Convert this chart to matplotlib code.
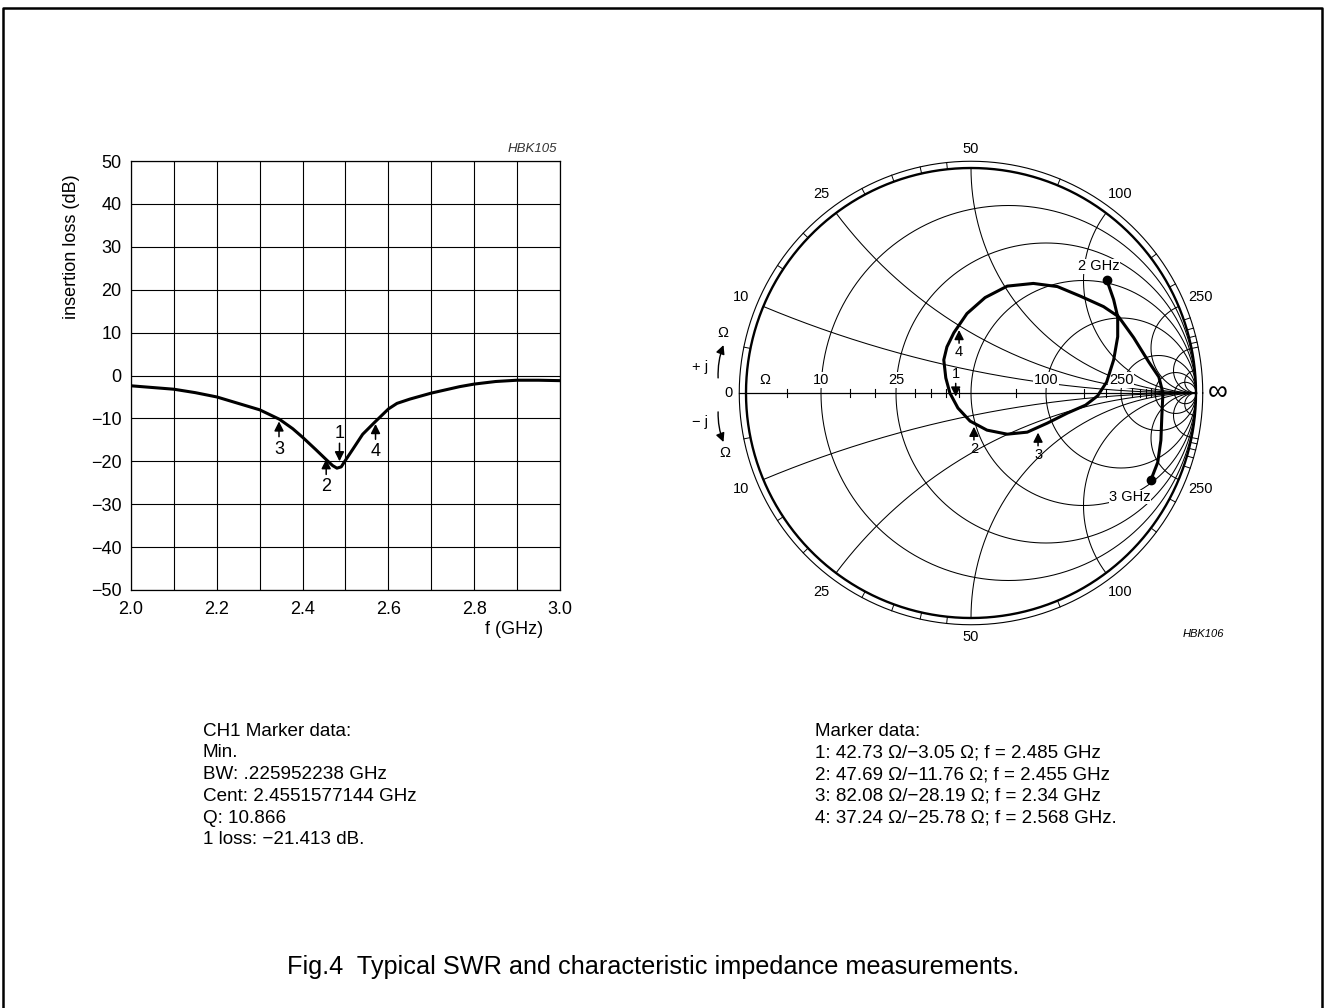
import numpy as np
import matplotlib
matplotlib.use("Agg")
import matplotlib.pyplot as plt
from matplotlib.lines import Line2D

plt.rcParams['font.family'] = ['Liberation Sans', 'DejaVu Sans']

W, H = 1324, 1008

# insertion loss vs frequency
freq = [2.0, 2.05, 2.1, 2.15, 2.2, 2.25, 2.3, 2.346, 2.377, 2.4, 2.43, 2.455,
        2.47, 2.48, 2.49, 2.497, 2.517, 2.54, 2.568, 2.6, 2.62, 2.65, 2.7, 2.766,
        2.8, 2.85, 2.9, 2.95, 3.0]
loss_db = [-2.4, -2.8, -3.2, -4.0, -5.0, -6.5, -8.0, -10.2, -12.4, -14.4, -17.2, -19.6,
           -21.0, -21.6, -21.3, -20.2, -17.2, -13.7, -10.9, -7.8, -6.5, -5.5, -4.1, -2.6,
           -2.0, -1.4, -1.1, -1.1, -1.2]

# marker arrows on the left chart
il_mk_id = ['1', '2', '3', '4']
il_mk_f = [2.486, 2.455, 2.345, 2.570]
il_mk_db = [-20.0, -19.5, -10.7, -11.3]
il_mk_up = [False, True, True, True]

# Smith chart trace, reflection coefficient (2 GHz -> 3 GHz)
gamma_re = [0.603, 0.634, 0.652, 0.652, 0.634, 0.603, 0.5625, 0.509, 0.429, 0.339,
            0.25, 0.161, 0.071, -0.004, -0.058, -0.094, -0.112, -0.121, -0.107, -0.076,
            -0.018, 0.0625, 0.161, 0.277, 0.384, 0.487, 0.589, 0.656, 0.723, 0.790,
            0.835, 0.853, 0.848, 0.844, 0.830, 0.799]
gamma_im = [0.504, 0.415, 0.339, 0.250, 0.147, 0.049, -0.013, -0.054, -0.089, -0.134,
            -0.174, -0.183, -0.165, -0.125, -0.067, 0.0, 0.067, 0.147, 0.205, 0.268,
            0.353, 0.424, 0.475, 0.487, 0.473, 0.430, 0.384, 0.339, 0.246, 0.138,
            0.071, 0.0, -0.107, -0.210, -0.308, -0.388]

sm_mk_id = ['1', '2', '3', '4']
sm_mk_re = [-0.068, 0.013, 0.298, -0.053]
sm_mk_im = [-0.016, -0.150, -0.176, 0.280]
sm_mk_up = [False, True, True, True]

# Smith chart grid values (ohms, Z0 = 50)
z0 = 50.0
grid_norm = [0.2, 0.5, 1, 2, 5, 10, 20]
label_ohm = [10, 25, 50, 100, 250]
tick_ohm = [5, 15, 20, 30, 35, 40, 45, 75, 150, 200, 300, 350, 400, 450, 500]

left_text = ["CH1 Marker data:", "Min.", "BW: .225952238 GHz", "Cent: 2.4551577144 GHz",
             "Q: 10.866", "1 loss: \u221221.413 dB."]
right_text = ["Marker data:",
              "1: 42.73 \u03a9/\u22123.05 \u03a9; f = 2.485 GHz",
              "2: 47.69 \u03a9/\u221211.76 \u03a9; f = 2.455 GHz",
              "3: 82.08 \u03a9/\u221228.19 \u03a9; f = 2.34 GHz",
              "4: 37.24 \u03a9/\u221225.78 \u03a9; f = 2.568 GHz."]


def marker(ax, x, y, label, up, length, gap, fs):
    s = -1 if up else 1
    ax.annotate('', xy=(x, y), xytext=(0, s * length), textcoords='offset points',
                arrowprops=dict(arrowstyle='-|>', color='k', lw=1.1, mutation_scale=14,
                                shrinkA=0, shrinkB=0))
    ax.annotate(label, xy=(x, y), xytext=(0, s * gap), textcoords='offset points',
                ha='center', va='center', fontsize=fs)


fig = plt.figure(figsize=(W / 100, H / 100), dpi=100)

# ---------------- left: insertion loss ----------------
ax = fig.add_axes([131 / W, 1 - 590 / H, 429 / W, 429 / H])
ax.plot(freq, loss_db, color='k', lw=2.2, solid_capstyle='round', solid_joinstyle='round')
ax.set_xlim(2.0, 3.0)
ax.set_ylim(-50, 50)
ax.set_xticks(np.arange(2.0, 3.01, 0.1), minor=True)
ax.set_xticks([2.0, 2.2, 2.4, 2.6, 2.8, 3.0])
ax.set_xticklabels(['2.0', '2.2', '2.4', '2.6', '2.8', '3.0'])
ax.set_yticks(np.arange(-50, 51, 10))
ax.grid(True, which='both', color='k', lw=0.8)
ax.tick_params(which='both', length=0, labelsize=13)
ax.tick_params(axis='y', pad=7)
ax.tick_params(axis='x', pad=8)
for sp in ax.spines.values():
    sp.set_linewidth(0.9)
for i in range(len(il_mk_id)):
    up = il_mk_up[i]
    marker(ax, il_mk_f[i], il_mk_db[i], il_mk_id[i], up, 11 if up else 13, 20, 13)

fig.text(72 / W, 1 - 247 / H, 'insertion loss (dB)', rotation=90, ha='center', va='center', fontsize=13)
fig.text(514 / W, 1 - 629 / H, 'f (GHz)', ha='center', va='center', fontsize=13)
fig.text(532 / W, 1 - 149 / H, 'HBK105', ha='center', va='center', fontsize=9.5,
         style='italic', color='#333333')

# ---------------- right: Smith chart ----------------
cx, cy, R = 971, 393, 225
a = 1.3
sm = fig.add_axes([(cx - a * R) / W, 1 - (cy + a * R) / H, 2 * a * R / W, 2 * a * R / H])
sm.set_xlim(-a, a)
sm.set_ylim(-a, a)
sm.axis('off')

th = np.linspace(0, 2 * np.pi, 721)
grid_kw = dict(color='k', lw=0.75)
for r in grid_norm:
    c = r / (1 + r)
    rad = 1 / (1 + r)
    sm.plot(c + rad * np.cos(th), rad * np.sin(th), **grid_kw)
rr = np.concatenate([[0.0], np.geomspace(1e-3, 1e5, 800)])
for x in grid_norm:
    for s in (1, -1):
        z = rr + 1j * s * x
        g = (z - 1) / (z + 1)
        sm.plot(g.real, g.imag, **grid_kw)

sm.plot(np.cos(th), np.sin(th), color='k', lw=1.7)
sm.plot(1.03 * np.cos(th), 1.03 * np.sin(th), color='k', lw=0.8)
sm.plot([-1.03, 1.0], [0, 0], color='k', lw=0.9)

for v in tick_ohm:
    ang = np.pi - 2 * np.arctan(v / z0)
    for s in (1, -1):
        sm.plot([np.cos(ang), 1.03 * np.cos(ang)], [s * np.sin(ang), s * 1.03 * np.sin(ang)],
                color='k', lw=0.7)
    gx = (v - z0) / (v + z0)
    sm.plot([gx, gx], [-0.018, 0.018], color='k', lw=0.8)

lab_kw = dict(ha='center', va='center', fontsize=10.5)
for v in label_ohm:
    ang = np.pi - 2 * np.arctan(v / z0)
    rl = 1.085 if v == 50 else 1.105
    for s in (1, -1):
        sm.text(rl * np.cos(ang), s * rl * np.sin(ang), str(v), **lab_kw)
    if v != 50:
        gx = (v - z0) / (v + z0)
        sm.text(gx, 0.058, str(v), bbox=dict(fc='white', ec='none', pad=0.6), **lab_kw)
sm.text(-0.915, 0.058, '\u03a9', **lab_kw)
sm.text(-1.076, 0.0, '0', **lab_kw)
sm.text(1.098, 0.0, '\u221e', ha='center', va='center', fontsize=20)
sm.text(-1.204, 0.116, '+ j', **lab_kw)
sm.text(-1.102, 0.267, '\u03a9', **lab_kw)
sm.text(-1.204, -0.129, '\u2212 j', **lab_kw)
sm.text(-1.093, -0.267, '\u03a9', **lab_kw)
arr_kw = dict(arrowstyle='-|>', color='k', lw=1.0, mutation_scale=13, shrinkA=0, shrinkB=0)
sm.annotate('', xy=(-1.100, 0.213), xytext=(-1.124, 0.067), arrowprops=dict(connectionstyle='arc3,rad=-0.1', **arr_kw))
sm.annotate('', xy=(-1.100, -0.218), xytext=(-1.124, -0.084), arrowprops=dict(connectionstyle='arc3,rad=0.1', **arr_kw))

sm.plot(gamma_re, gamma_im, color='k', lw=2.2, solid_joinstyle='round', zorder=5)
sm.plot([gamma_re[0], gamma_re[-1]], [gamma_im[0], gamma_im[-1]], 'o', color='k', ms=6, zorder=6)
sm.text(0.569, 0.564, '2 GHz', bbox=dict(fc='white', ec='none', pad=0.3), zorder=7, **lab_kw)
sm.text(0.707, -0.462, '3 GHz', bbox=dict(fc='white', ec='none', pad=0.3), zorder=7, **lab_kw)

for i in range(len(sm_mk_id)):
    marker(sm, sm_mk_re[i], sm_mk_im[i], sm_mk_id[i], sm_mk_up[i], 9.5, 16, 10.5)

fig.text(1203 / W, 1 - 634 / H, 'HBK106', ha='center', va='center', fontsize=8, style='italic')

# ---------------- text blocks ----------------
for i, line in enumerate(left_text):
    fig.text(203 / W, 1 - (731 + 21.8 * i) / H, line, ha='left', va='center', fontsize=13.6)
for i, line in enumerate(right_text):
    fig.text(815 / W, 1 - (731 + 21.8 * i) / H, line, ha='left', va='center', fontsize=13.5)
fig.text(653 / W, 1 - 967 / H, 'Fig.4  Typical SWR and characteristic impedance measurements.',
         ha='center', va='center', fontsize=18.2)

# page frame
x0, x1, yt = 2.5 / W, 1322 / W, 1 - 8 / H
fig.add_artist(Line2D([x0, x0, x1, x1], [0, yt, yt, 0], color='k', lw=1.8))

fig.savefig('out.png', dpi=100)
